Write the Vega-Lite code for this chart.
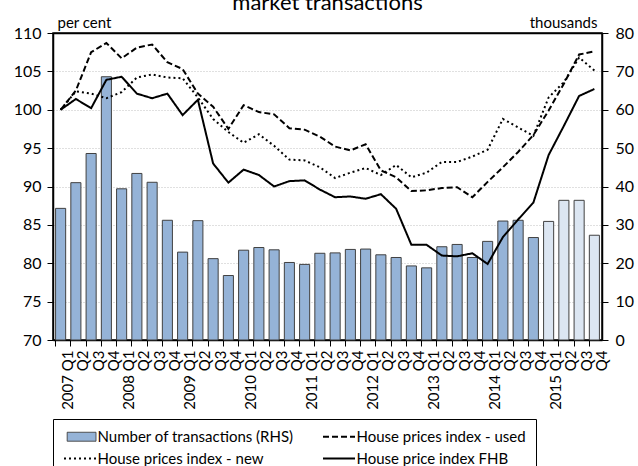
{
  "$schema": "https://vega.github.io/schema/vega-lite/v6.json",
  "autosize": {"type": "none"},
  "padding": {"left": 53, "top": 33, "right": 36, "bottom": 126},
  "width": 549,
  "height": 307,
  "background": "white",
  "title": {"text": "market transactions", "font": "Lato", "fontSize": 22, "fontWeight": "normal", "color": "black", "anchor": "middle", "offset": 0},
  "config": {"view": {"stroke": "black", "strokeWidth": 1.5}, "font": "Lato"},
  "datasets": {
    "tx": [
      {"quarter": "2007 Q1", "transactions": 34.3, "estimate": false},
      {"quarter": "2007 Q2", "transactions": 41.0, "estimate": false},
      {"quarter": "2007 Q3", "transactions": 48.6, "estimate": false},
      {"quarter": "2007 Q4", "transactions": 68.6, "estimate": false},
      {"quarter": "2008 Q1", "transactions": 39.4, "estimate": false},
      {"quarter": "2008 Q2", "transactions": 43.4, "estimate": false},
      {"quarter": "2008 Q3", "transactions": 41.1, "estimate": false},
      {"quarter": "2008 Q4", "transactions": 31.2, "estimate": false},
      {"quarter": "2009 Q1", "transactions": 22.9, "estimate": false},
      {"quarter": "2009 Q2", "transactions": 31.1, "estimate": false},
      {"quarter": "2009 Q3", "transactions": 21.2, "estimate": false},
      {"quarter": "2009 Q4", "transactions": 16.8, "estimate": false},
      {"quarter": "2010 Q1", "transactions": 23.4, "estimate": false},
      {"quarter": "2010 Q2", "transactions": 24.1, "estimate": false},
      {"quarter": "2010 Q3", "transactions": 23.5, "estimate": false},
      {"quarter": "2010 Q4", "transactions": 20.2, "estimate": false},
      {"quarter": "2011 Q1", "transactions": 19.7, "estimate": false},
      {"quarter": "2011 Q2", "transactions": 22.6, "estimate": false},
      {"quarter": "2011 Q3", "transactions": 22.7, "estimate": false},
      {"quarter": "2011 Q4", "transactions": 23.6, "estimate": false},
      {"quarter": "2012 Q1", "transactions": 23.7, "estimate": false},
      {"quarter": "2012 Q2", "transactions": 22.2, "estimate": false},
      {"quarter": "2012 Q3", "transactions": 21.5, "estimate": false},
      {"quarter": "2012 Q4", "transactions": 19.3, "estimate": false},
      {"quarter": "2013 Q1", "transactions": 18.8, "estimate": false},
      {"quarter": "2013 Q2", "transactions": 24.3, "estimate": false},
      {"quarter": "2013 Q3", "transactions": 24.9, "estimate": false},
      {"quarter": "2013 Q4", "transactions": 21.5, "estimate": false},
      {"quarter": "2014 Q1", "transactions": 25.7, "estimate": false},
      {"quarter": "2014 Q2", "transactions": 31.0, "estimate": false},
      {"quarter": "2014 Q3", "transactions": 31.2, "estimate": false},
      {"quarter": "2014 Q4", "transactions": 26.7, "estimate": false},
      {"quarter": "2015 Q1", "transactions": 30.9, "estimate": true},
      {"quarter": "2015 Q2", "transactions": 36.4, "estimate": true},
      {"quarter": "2015 Q3", "transactions": 36.4, "estimate": true},
      {"quarter": "2015 Q4", "transactions": 27.3, "estimate": true}
    ],
    "hp": [
      {"quarter": "2007 Q1", "series": "House prices index - used", "index": 100},
      {"quarter": "2007 Q2", "series": "House prices index - used", "index": 102.5},
      {"quarter": "2007 Q3", "series": "House prices index - used", "index": 107.5},
      {"quarter": "2007 Q4", "series": "House prices index - used", "index": 108.7},
      {"quarter": "2008 Q1", "series": "House prices index - used", "index": 106.7},
      {"quarter": "2008 Q2", "series": "House prices index - used", "index": 108.1},
      {"quarter": "2008 Q3", "series": "House prices index - used", "index": 108.5},
      {"quarter": "2008 Q4", "series": "House prices index - used", "index": 106.2},
      {"quarter": "2009 Q1", "series": "House prices index - used", "index": 105.3},
      {"quarter": "2009 Q2", "series": "House prices index - used", "index": 102.1},
      {"quarter": "2009 Q3", "series": "House prices index - used", "index": 100.4},
      {"quarter": "2009 Q4", "series": "House prices index - used", "index": 97.5},
      {"quarter": "2010 Q1", "series": "House prices index - used", "index": 100.6},
      {"quarter": "2010 Q2", "series": "House prices index - used", "index": 99.7},
      {"quarter": "2010 Q3", "series": "House prices index - used", "index": 99.4},
      {"quarter": "2010 Q4", "series": "House prices index - used", "index": 97.6},
      {"quarter": "2011 Q1", "series": "House prices index - used", "index": 97.4},
      {"quarter": "2011 Q2", "series": "House prices index - used", "index": 96.5},
      {"quarter": "2011 Q3", "series": "House prices index - used", "index": 95.2},
      {"quarter": "2011 Q4", "series": "House prices index - used", "index": 94.7},
      {"quarter": "2012 Q1", "series": "House prices index - used", "index": 95.5},
      {"quarter": "2012 Q2", "series": "House prices index - used", "index": 92.1},
      {"quarter": "2012 Q3", "series": "House prices index - used", "index": 91.2},
      {"quarter": "2012 Q4", "series": "House prices index - used", "index": 89.4},
      {"quarter": "2013 Q1", "series": "House prices index - used", "index": 89.5},
      {"quarter": "2013 Q2", "series": "House prices index - used", "index": 89.8},
      {"quarter": "2013 Q3", "series": "House prices index - used", "index": 89.9},
      {"quarter": "2013 Q4", "series": "House prices index - used", "index": 88.6},
      {"quarter": "2014 Q1", "series": "House prices index - used", "index": 90.6},
      {"quarter": "2014 Q2", "series": "House prices index - used", "index": 92.5},
      {"quarter": "2014 Q3", "series": "House prices index - used", "index": 94.5},
      {"quarter": "2014 Q4", "series": "House prices index - used", "index": 96.7},
      {"quarter": "2015 Q1", "series": "House prices index - used", "index": 99.9},
      {"quarter": "2015 Q2", "series": "House prices index - used", "index": 103.4},
      {"quarter": "2015 Q3", "series": "House prices index - used", "index": 107.2},
      {"quarter": "2015 Q4", "series": "House prices index - used", "index": 107.6},
      {"quarter": "2007 Q1", "series": "House prices index - new", "index": 100},
      {"quarter": "2007 Q2", "series": "House prices index - new", "index": 102.4},
      {"quarter": "2007 Q3", "series": "House prices index - new", "index": 102.1},
      {"quarter": "2007 Q4", "series": "House prices index - new", "index": 101.5},
      {"quarter": "2008 Q1", "series": "House prices index - new", "index": 102.3},
      {"quarter": "2008 Q2", "series": "House prices index - new", "index": 104.2},
      {"quarter": "2008 Q3", "series": "House prices index - new", "index": 104.6},
      {"quarter": "2008 Q4", "series": "House prices index - new", "index": 104.2},
      {"quarter": "2009 Q1", "series": "House prices index - new", "index": 104.1},
      {"quarter": "2009 Q2", "series": "House prices index - new", "index": 101.6},
      {"quarter": "2009 Q3", "series": "House prices index - new", "index": 98.8},
      {"quarter": "2009 Q4", "series": "House prices index - new", "index": 97.1},
      {"quarter": "2010 Q1", "series": "House prices index - new", "index": 95.7},
      {"quarter": "2010 Q2", "series": "House prices index - new", "index": 96.8},
      {"quarter": "2010 Q3", "series": "House prices index - new", "index": 95.3},
      {"quarter": "2010 Q4", "series": "House prices index - new", "index": 93.5},
      {"quarter": "2011 Q1", "series": "House prices index - new", "index": 93.4},
      {"quarter": "2011 Q2", "series": "House prices index - new", "index": 92.5},
      {"quarter": "2011 Q3", "series": "House prices index - new", "index": 91.1},
      {"quarter": "2011 Q4", "series": "House prices index - new", "index": 91.8},
      {"quarter": "2012 Q1", "series": "House prices index - new", "index": 92.4},
      {"quarter": "2012 Q2", "series": "House prices index - new", "index": 91.5},
      {"quarter": "2012 Q3", "series": "House prices index - new", "index": 92.8},
      {"quarter": "2012 Q4", "series": "House prices index - new", "index": 91.2},
      {"quarter": "2013 Q1", "series": "House prices index - new", "index": 91.8},
      {"quarter": "2013 Q2", "series": "House prices index - new", "index": 93.2},
      {"quarter": "2013 Q3", "series": "House prices index - new", "index": 93.2},
      {"quarter": "2013 Q4", "series": "House prices index - new", "index": 93.9},
      {"quarter": "2014 Q1", "series": "House prices index - new", "index": 94.8},
      {"quarter": "2014 Q2", "series": "House prices index - new", "index": 98.8},
      {"quarter": "2014 Q3", "series": "House prices index - new", "index": 97.7},
      {"quarter": "2014 Q4", "series": "House prices index - new", "index": 96.6},
      {"quarter": "2015 Q1", "series": "House prices index - new", "index": 101.6},
      {"quarter": "2015 Q2", "series": "House prices index - new", "index": 103.6},
      {"quarter": "2015 Q3", "series": "House prices index - new", "index": 106.8},
      {"quarter": "2015 Q4", "series": "House prices index - new", "index": 105.1},
      {"quarter": "2007 Q1", "series": "House price index FHB", "index": 100},
      {"quarter": "2007 Q2", "series": "House price index FHB", "index": 101.4},
      {"quarter": "2007 Q3", "series": "House price index FHB", "index": 100.2},
      {"quarter": "2007 Q4", "series": "House price index FHB", "index": 103.9},
      {"quarter": "2008 Q1", "series": "House price index FHB", "index": 104.3},
      {"quarter": "2008 Q2", "series": "House price index FHB", "index": 102.1},
      {"quarter": "2008 Q3", "series": "House price index FHB", "index": 101.5},
      {"quarter": "2008 Q4", "series": "House price index FHB", "index": 102.1},
      {"quarter": "2009 Q1", "series": "House price index FHB", "index": 99.3},
      {"quarter": "2009 Q2", "series": "House price index FHB", "index": 101.3},
      {"quarter": "2009 Q3", "series": "House price index FHB", "index": 93.0},
      {"quarter": "2009 Q4", "series": "House price index FHB", "index": 90.5},
      {"quarter": "2010 Q1", "series": "House price index FHB", "index": 92.2},
      {"quarter": "2010 Q2", "series": "House price index FHB", "index": 91.5},
      {"quarter": "2010 Q3", "series": "House price index FHB", "index": 90.0},
      {"quarter": "2010 Q4", "series": "House price index FHB", "index": 90.7},
      {"quarter": "2011 Q1", "series": "House price index FHB", "index": 90.8},
      {"quarter": "2011 Q2", "series": "House price index FHB", "index": 89.6},
      {"quarter": "2011 Q3", "series": "House price index FHB", "index": 88.6},
      {"quarter": "2011 Q4", "series": "House price index FHB", "index": 88.7},
      {"quarter": "2012 Q1", "series": "House price index FHB", "index": 88.4},
      {"quarter": "2012 Q2", "series": "House price index FHB", "index": 89.0},
      {"quarter": "2012 Q3", "series": "House price index FHB", "index": 87.1},
      {"quarter": "2012 Q4", "series": "House price index FHB", "index": 82.4},
      {"quarter": "2013 Q1", "series": "House price index FHB", "index": 82.4},
      {"quarter": "2013 Q2", "series": "House price index FHB", "index": 81.0},
      {"quarter": "2013 Q3", "series": "House price index FHB", "index": 80.9},
      {"quarter": "2013 Q4", "series": "House price index FHB", "index": 81.3},
      {"quarter": "2014 Q1", "series": "House price index FHB", "index": 79.9},
      {"quarter": "2014 Q2", "series": "House price index FHB", "index": 83.4},
      {"quarter": "2014 Q3", "series": "House price index FHB", "index": 85.7},
      {"quarter": "2014 Q4", "series": "House price index FHB", "index": 87.9},
      {"quarter": "2015 Q1", "series": "House price index FHB", "index": 94.1},
      {"quarter": "2015 Q2", "series": "House price index FHB", "index": 97.9},
      {"quarter": "2015 Q3", "series": "House price index FHB", "index": 101.8},
      {"quarter": "2015 Q4", "series": "House price index FHB", "index": 102.7}
    ]
  },
  "layer": [
    {
      "data": {"name": "tx"},
      "mark": {"type": "bar", "stroke": "#404040", "strokeWidth": 1},
      "encoding": {
        "x": {
          "field": "quarter", "type": "ordinal", "sort": null,
          "scale": {"paddingInner": 0.34, "paddingOuter": 0.17},
          "axis": {
            "title": null, "labelAngle": -90, "labelOverlap": false, "labelFlush": false,
            "labelExpr": "slice(datum.label, 5) == 'Q1' ? datum.label : slice(datum.label, 5)",
            "bandPosition": 0, "labelOffset": 7.6,
            "labelFont": "Lato", "labelFontSize": 15, "labelColor": "black", "labelPadding": 4,
            "tickColor": "black", "tickSize": 6, "tickWidth": 1,
            "domainColor": "black", "domainWidth": 1.5, "grid": false
          }
        },
        "y": {
          "field": "transactions", "type": "quantitative",
          "scale": {"domain": [0, 80]},
          "axis": {
            "orient": "right", "values": [0, 10, 20, 30, 40, 50, 60, 70, 80],
            "title": "thousands", "titleAngle": 0, "titleAlign": "right", "titleBaseline": "alphabetic",
            "titleX": -5, "titleY": -6, "titleFont": "Lato", "titleFontSize": 15, "titleFontWeight": "normal", "titleColor": "black",
            "labelFont": "Lato", "labelFontSize": 16, "labelColor": "black", "labelPadding": 7,
            "tickColor": "black", "tickSize": 6, "domainColor": "black", "domainWidth": 1.5, "grid": false
          }
        },
        "fill": {"condition": {"test": "datum.estimate", "value": "#DCE6F2"}, "value": "#95B3D7"}
      }
    },
    {
      "data": {"name": "hp"},
      "mark": {"type": "line", "color": "black", "strokeWidth": 2},
      "encoding": {
        "x": {"field": "quarter", "type": "ordinal", "sort": null},
        "y": {
          "field": "index", "type": "quantitative",
          "scale": {"domain": [70, 110]},
          "axis": {
            "orient": "left", "values": [70, 75, 80, 85, 90, 95, 100, 105, 110],
            "title": "per cent", "titleAngle": 0, "titleAlign": "left", "titleBaseline": "alphabetic",
            "titleX": 4, "titleY": -6, "titleFont": "Lato", "titleFontSize": 15, "titleFontWeight": "normal", "titleColor": "black",
            "labelFont": "Lato", "labelFontSize": 16, "labelColor": "black", "labelPadding": 6,
            "tickColor": "black", "tickSize": 6, "domainColor": "black", "domainWidth": 1.5,
            "grid": true,
            "gridColor": {"condition": {"test": "datum.value == 110", "value": "black"}, "value": "#c0c0c0"},
            "gridDash": {"condition": {"test": "datum.value == 110", "value": [1, 0]}, "value": [1, 2]},
            "gridWidth": {"condition": {"test": "datum.value == 110", "value": 1.5}, "value": 1}
          }
        },
        "strokeDash": {
          "field": "series", "type": "nominal",
          "scale": {
            "domain": ["Number of transactions (RHS)", "House prices index - new", "House prices index - used", "House price index FHB"],
            "range": [[1, 0], [2, 3], [6, 3], [1, 0]]
          },
          "legend": {
            "title": null, "orient": "none", "legendX": 0, "legendY": 386,
            "columns": 2, "columnPadding": 25, "rowPadding": 6, "padding": 10,
            "strokeColor": "black", "fillColor": "white",
            "symbolType": "stroke", "symbolSize": 1024, "symbolStrokeWidth": 2, "symbolStrokeColor": "black",
            "symbolOffset": 9.5,
            "labelFont": "Lato", "labelFontSize": 15, "labelColor": "black", "labelOffset": 10, "labelLimit": 300,
            "encode": {
              "symbols": {
                "update": {
                  "shape": {"signal": "datum.value === 'Number of transactions (RHS)' ? 'M-0.8,-0.28H1V0.28H-0.8Z' : 'stroke'"},
                  "fill": {"signal": "datum.value === 'Number of transactions (RHS)' ? '#95B3D7' : 'transparent'"},
                  "stroke": {"signal": "datum.value === 'Number of transactions (RHS)' ? '#404040' : 'black'"},
                  "strokeWidth": {"signal": "datum.value === 'Number of transactions (RHS)' ? 1 : 2"}
                }
              }
            }
          }
        }
      }
    }
  ],
  "resolve": {"scale": {"y": "independent"}}
}
